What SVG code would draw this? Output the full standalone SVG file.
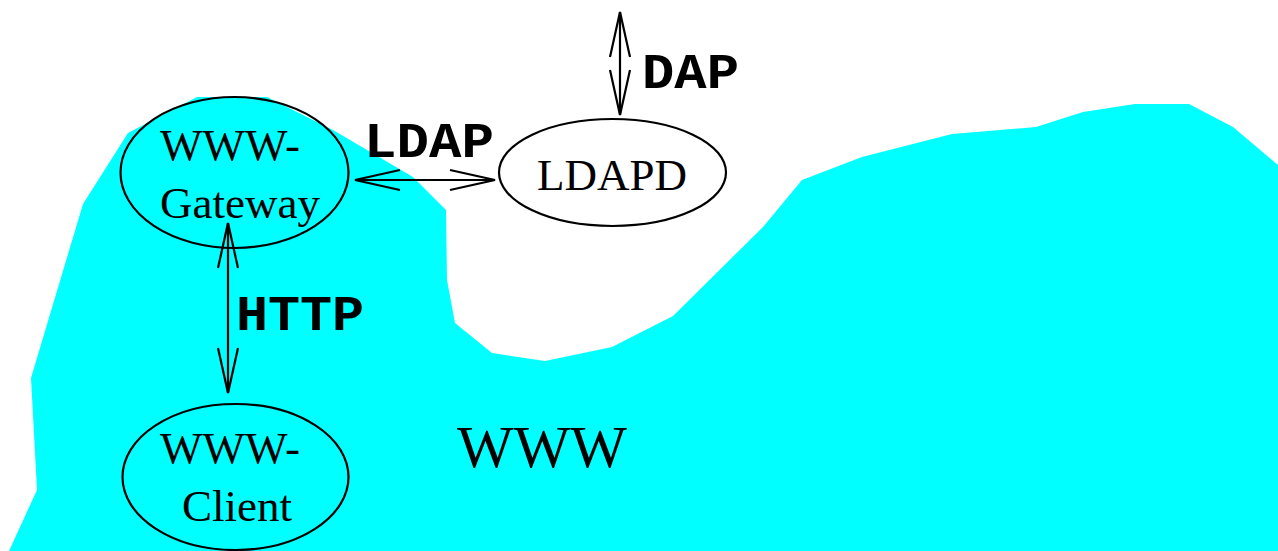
<svg xmlns="http://www.w3.org/2000/svg" width="1278" height="551" viewBox="0 0 1278 551">
<style>
.node{fill:none;stroke:#000;stroke-width:2.2}
.t{font-family:"Liberation Serif",serif;font-size:45px;fill:#000}
.lbl{font-family:"Liberation Mono",monospace;font-weight:bold;font-size:50px;fill:#000}
.conn{stroke:#000;stroke-width:2.2;fill:none}
</style>
<defs>
<marker id="ah" markerUnits="userSpaceOnUse" markerWidth="60" markerHeight="30" viewBox="-50 -15 60 30" refX="0" refY="0" orient="auto-start-reverse">
<path d="M -45 -10 L 0 0 L -45 10" fill="none" stroke="#000" stroke-width="2.2"/>
</marker>
</defs>
<polygon id="www-region" fill="#00ffff" points="9,551 37,490 31,378 83,204 128,133 197,97 267,97 333,130 413,177 446,210 447,280 455,323 492,353 545,361 612,347 673,316 763,227 802,180 862,157 952,134 1036,127 1083,112 1135,104 1189,104 1233,127 1278,165 1278,551"/>
<text class="t" x="457" y="467" style="font-size:60px">WWW</text>
<g id="connectors">
<line class="conn" x1="355" y1="180" x2="495" y2="180" marker-start="url(#ah)" marker-end="url(#ah)"/>
<line class="conn" x1="228" y1="223" x2="228" y2="393" marker-start="url(#ah)" marker-end="url(#ah)"/>
<line class="conn" x1="620" y1="12" x2="620" y2="115" marker-start="url(#ah)" marker-end="url(#ah)"/>
<text class="lbl" x="364" y="157" textLength="130" lengthAdjust="spacingAndGlyphs">LDAP</text>
<text class="lbl" x="236" y="330" textLength="128" lengthAdjust="spacingAndGlyphs">HTTP</text>
<text class="lbl" x="642" y="88" textLength="97" lengthAdjust="spacingAndGlyphs">DAP</text>
</g>
<g id="gateway">
<ellipse class="node" cx="234.5" cy="172.5" rx="114" ry="75.5"/>
<text class="t" x="160" y="160">WWW-</text>
<text class="t" x="160" y="218">Gateway</text>
</g>
<g id="ldapd">
<ellipse class="node" cx="612.5" cy="172.5" rx="113.5" ry="53.5"/>
<text class="t" x="537" y="190">LDAPD</text>
</g>
<g id="client">
<ellipse class="node" cx="235.5" cy="477" rx="113" ry="73"/>
<text class="t" x="160" y="463">WWW-</text>
<text class="t" x="182" y="521">Client</text>
</g>
</svg>
